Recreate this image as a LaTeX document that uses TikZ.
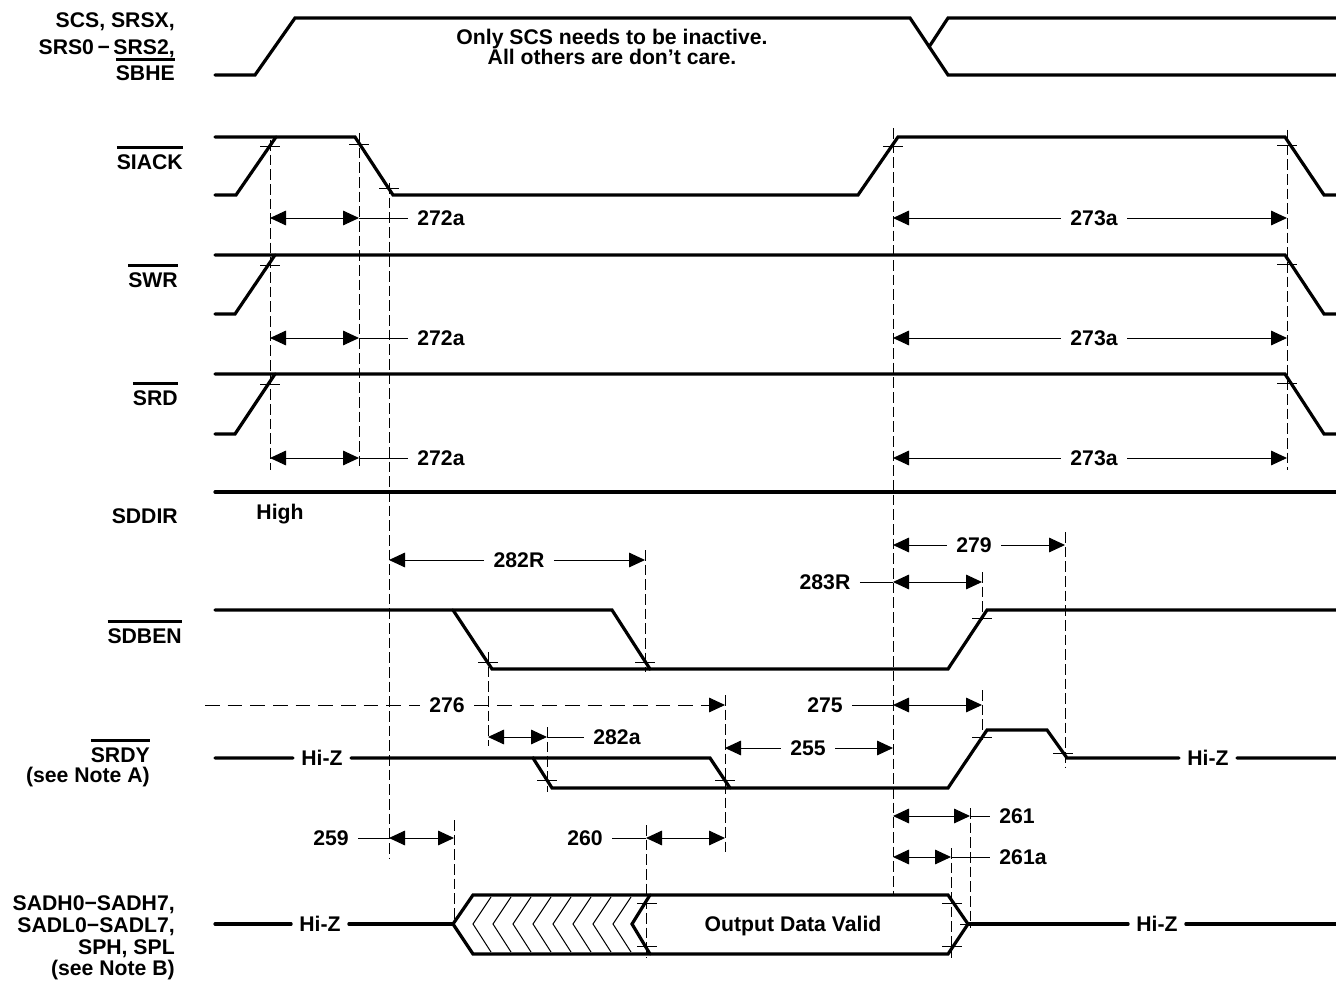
\documentclass[tikz,border=0pt]{standalone}
\usepackage{fontspec}
\setmainfont{Liberation Sans}
\usetikzlibrary{arrows.meta}
\newcommand{\barsig}[1]{\leavevmode\vbox{\hrule height 2pt\kern 4pt\hbox{#1}}}

\begin{document}
\begin{tikzpicture}[x=0.75pt, y=-0.75pt,
    every node/.style={font=\fontsize{15.9}{16.5}\selectfont\bfseries, inner sep=0pt},
    sig/.style={line width=2.4pt, line cap=round},
    thin/.style={line width=0.75pt},
    guide/.style={line width=0.75pt, dash pattern=on 8pt off 3pt},
    longdash/.style={line width=0.75pt, dash pattern=on 11pt off 6pt},
    tip/.style={-{Triangle[length=12pt,width=11pt]}},
    twotip/.style={{Triangle[length=12pt,width=11pt]}-{Triangle[length=12pt,width=11pt]}},
    lbl/.style={anchor=base east},
    tag/.style={inner xsep=7pt},
    hiz/.style={inner xsep=6pt}]
  \useasboundingbox (0,0) rectangle (1336,981);

  % signal names
  \node[lbl] (SCS1) at (175,28) {SCS, SRSX,};
  \node[lbl] (SCS2) at (175,55) {SRS0\,−\,SRS2,};
  \node[lbl] (SCS3) at (175,81) {\barsig{SBHE}};
  \node[lbl] (SIACK) at (183,169) {\barsig{SIACK}};
  \node[lbl] (SWR) at (178,287) {\barsig{SWR}};
  \node[lbl] (SRD) at (178,405) {\barsig{SRD}};
  \node[lbl] (SDDIR) at (178,523) {SDDIR};
  \node[lbl] (SDBEN) at (182,643) {\barsig{SDBEN}};
  \node[lbl] (SRDY1) at (150,762) {\barsig{SRDY}};
  \node[lbl] (SRDY2) at (150,782) {(see Note A)};
  \node[lbl] (SAD1) at (175,910) {SADH0−SADH7,};
  \node[lbl] (SAD2) at (175,932) {SADL0−SADL7,};
  \node[lbl] (SAD3) at (175,954) {SPH, SPL};
  \node[lbl] (SAD4) at (175,975) {(see Note B)};

  % SCS, SRSX, SRS0-SRS2, SBHE
  \draw[sig] (215,75) -- (255,75) -- (295,18) -- (910,18) -- (948,75) -- (1336,75);
  \draw[sig] (929,47) -- (948,18) -- (1336,18);
  \node[anchor=base] (NOTE1) at (612,45) {Only SCS needs to be inactive.};
  \node[anchor=base] (NOTE2) at (612,65) {All others are don’t care.};

  % SIACK
  \draw[sig] (215,137) -- (355,137) -- (393,195) -- (858,195) -- (898,137) -- (1285,137) -- (1324,195) -- (1336,195);
  \draw[sig] (215,195) -- (236,195) -- (276,137);

  % SWR and SRD
  \foreach \hi/\lo in {255/314, 374/434} {
    \draw[sig] (215,\hi) -- (1285,\hi) -- (1324,\lo) -- (1336,\lo);
    \draw[sig] (215,\lo) -- (235,\lo) -- (275,\hi);
  }

  % SDDIR
  \draw[sig] (215,492) -- (1336,492);
  \node[anchor=base] (HIGH) at (280,519) {High};

  % SDBEN
  \draw[sig] (215,610) -- (612,610) -- (650,669) -- (948,669) -- (987,610) -- (1336,610);
  \draw[sig] (453,610) -- (492,669) -- (650,669);

  % SRDY
  \node[hiz] (HZ1) at (322,758) {Hi-Z};
  \node[hiz] (HZ2) at (1208,758) {Hi-Z};
  \draw[sig] (215,758) -- (HZ1) -- (533,758) -- (552,788) -- (948,788) -- (987,730) -- (1047,730) -- (1067,758) -- (HZ2) -- (1336,758);
  \draw[sig] (533,758) -- (710,758) -- (730,788);

  % data bus
  \node[hiz] (HZ3) at (320,924) {Hi-Z};
  \node[hiz] (HZ4) at (1157,924) {Hi-Z};
  \draw[sig] (215,924) -- (HZ3) -- (453,924);
  \draw[sig] (968,924) -- (HZ4) -- (1336,924);
  \draw[sig, line join=miter] (453,924) -- (473,895) -- (948,895) -- (968,924) -- (948,954) -- (473,954) -- cycle;
  \draw[sig, line join=miter] (650,895) -- (632,924) -- (650,954);
  \foreach \x in {473,493,...,613}
    \draw[thin] (\x+18,897) -- (\x,924) -- (\x+18,952);
  \node[anchor=base] (ODV) at (793,931) {Output Data Valid};

  % dashed guides
  \foreach \x/\a/\b in {270/140/470, 359/133/470, 389/183/858, 893/128/895, 1287/130/470,
      645/550/672, 488/652/746, 1065/532/768, 982/572/620, 982/690/740, 725/695/853,
      547/727/792, 454/820/926, 646/825/958, 951/848/958, 970/808/928}
    \draw[guide] (\x,\a) -- (\x,\b);

  % ticks
  \foreach \x/\y in {270/146, 359/144, 389/188, 893/146, 1287/145, 270/265, 1287/264,
      270/384, 1287/383, 488/662, 645/662, 982/618, 547/780, 725/780, 982/737, 1063/753,
      647/903, 647/946, 952/903, 952/946, 970/924}
    \draw[thin] (\x-10,\y) -- (\x+10,\y);

  % 272a and 273a
  \foreach \y in {218,338,458} {
    \node[tag] (T272a-\y) at (441,\y) {272a};
    \draw[thin, twotip] (270,\y) -- (359,\y);
    \draw[thin] (359,\y) -- (T272a-\y);
    \node[tag] (T273a-\y) at (1094,\y) {273a};
    \draw[thin, tip] (T273a-\y) -- (893,\y);
    \draw[thin, tip] (T273a-\y) -- (1287,\y);
  }

  % SDBEN and SRDY timings
  \node[tag] (T282R) at (519,560) {282R};
  \draw[thin, tip] (T282R) -- (389,560);
  \draw[thin, tip] (T282R) -- (645,560);
  \node[tag] (T279) at (974,545) {279};
  \draw[thin, tip] (T279) -- (893,545);
  \draw[thin, tip] (T279) -- (1065,545);
  \node[tag] (T283R) at (825,582) {283R};
  \draw[thin] (T283R) -- (893,582);
  \draw[thin, twotip] (893,582) -- (982,582);
  \node[tag] (T276) at (447,705) {276};
  \draw[longdash] (205,705) -- (T276);
  \draw[longdash, tip] (T276) -- (725,705);
  \node[tag] (T275) at (825,705) {275};
  \draw[thin] (T275) -- (893,705);
  \draw[thin, twotip] (893,705) -- (982,705);
  \node[tag] (T282a) at (617,737) {282a};
  \draw[thin, twotip] (488,737) -- (547,737);
  \draw[thin] (547,737) -- (T282a);
  \node[tag] (T255) at (808,748) {255};
  \draw[thin, tip] (T255) -- (725,748);
  \draw[thin, tip] (T255) -- (893,748);

  % data bus timings
  \node[tag] (T259) at (331,838) {259};
  \draw[thin] (T259) -- (389,838);
  \draw[thin, twotip] (389,838) -- (454,838);
  \node[tag] (T260) at (585,838) {260};
  \draw[thin] (T260) -- (646,838);
  \draw[thin, twotip] (646,838) -- (725,838);
  \node[tag] (T261) at (1017,816) {261};
  \draw[thin, twotip] (893,816) -- (970,816);
  \draw[thin] (970,816) -- (T261);
  \node[tag] (T261a) at (1023,857) {261a};
  \draw[thin, twotip] (893,857) -- (951,857);
  \draw[thin] (951,857) -- (T261a);
\end{tikzpicture}
\end{document}
